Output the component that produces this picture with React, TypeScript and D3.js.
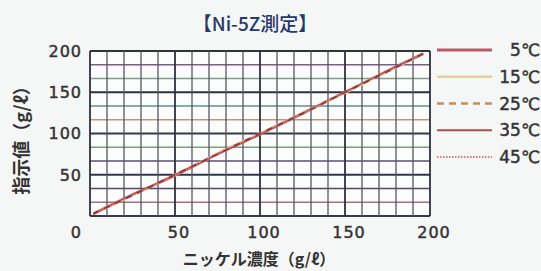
import { useEffect, useRef } from 'react'
import * as d3 from 'd3'

const title = '【Ni-5Z測定】'
const xTitle = 'ニッケル濃度（g/ℓ）'
const yTitle = '指示値（g/ℓ）'

const xTicks = [50, 100, 150, 200]
const yTicks = [50, 100, 150, 200]

// horizontal grid rows (every 50/3 g/l) and their pen colours
const hGrid = [0, 16.67, 33.33, 50, 66.67, 83.33, 100, 116.67, 133.33, 150, 166.67, 183.33, 200]
const hGridColors = ['#3b3550', '#a8707c', '#54466a', '#2e3550', '#5e4e72', '#7a9e78', '#33384a', '#b8977e', '#5e8e94', '#2e3040', '#7e9c86', '#7a5c88', '#333']
const vGrid = [0, 10, 20, 30, 40, 50, 60, 70, 80, 90, 100, 110, 120, 130, 140, 150, 160, 170, 180, 190, 200]

const concentration = [2, 25, 50, 75, 100, 125, 150, 175, 196]
const temps = ['5℃', '15℃', '25℃', '35℃', '45℃']
const t5 = [3, 26, 49, 75, 99, 124, 150, 176, 197]
const t15 = [2, 25, 50, 76, 100, 125, 149, 175, 196]
const t25 = [3, 25, 50, 75, 100, 124, 150, 175, 197]
const t35 = [2, 26, 50, 75, 99, 125, 150, 176, 196]
const t45 = [3, 25, 49, 76, 100, 125, 151, 175, 197]
const seriesValues = [t5, t15, t25, t35, t45]

const seriesColors = ['#b95a6c', '#e4d09c', '#c98a5c', '#a8504e', '#d27a88']
const seriesDash = ['', '', '7,5', '', '1.5,1.5']
const seriesWidth = [2.4, 2, 2, 1.4, 1.8]

export default function App() {
  const ref = useRef<SVGSVGElement>(null)

  useEffect(() => {
    if (!ref.current) return
    const svg = d3.select(ref.current)
    svg.selectAll('*').remove()

    const font = '"DejaVu Sans", "Noto Sans CJK JP", sans-serif'
    const cjk = '"Noto Sans CJK JP", sans-serif'

    svg.append('rect').attr('width', 541).attr('height', 271).attr('fill', '#f5f6f6')

    const x = d3.scaleLinear().domain([0, 200]).range([90, 430])
    const y = d3.scaleLinear().domain([0, 200]).range([216, 51])

    svg.append('rect')
      .attr('x', x(0)).attr('y', y(200))
      .attr('width', x(200) - x(0)).attr('height', y(0) - y(200))
      .attr('fill', '#fbfdfd')

    // grid
    svg.selectAll('.hg')
      .data(hGrid)
      .join('line')
      .attr('x1', x(0)).attr('x2', x(200))
      .attr('y1', d => y(d)).attr('y2', d => y(d))
      .attr('stroke', (d, i) => hGridColors[i])
      .attr('stroke-width', (d, i) => (i % 3 === 0 ? 1.8 : 1.5))

    svg.selectAll('.vg')
      .data(vGrid)
      .join('line')
      .attr('x1', d => x(d)).attr('x2', d => x(d))
      .attr('y1', y(0)).attr('y2', y(200))
      .attr('stroke', d => (d % 50 === 0 ? '#2f3040' : '#55565f'))
      .attr('stroke-width', d => (d % 50 === 0 ? 1.8 : 1.3))

    // series
    const line = d3.line<number>()
      .x((d, i) => x(concentration[i]))
      .y(d => y(d))
      .curve(d3.curveCatmullRom)

    seriesValues.forEach((vals, k) => {
      svg.append('path')
        .attr('d', line(vals))
        .attr('fill', 'none')
        .attr('stroke', k === 3 ? '#b8453f' : seriesColors[k])
        .attr('stroke-width', seriesWidth[k])
        .attr('stroke-dasharray', seriesDash[k] || null)
    })
    svg.append('path')
      .attr('d', line(t25))
      .attr('fill', 'none')
      .attr('stroke', '#8a3a38')
      .attr('stroke-width', 1.6)
      .attr('stroke-dasharray', '6,6')

    // tick labels
    const num = (sel: any) => sel
      .attr('font-family', font)
      .attr('font-size', 16)
      .attr('letter-spacing', 1)
      .attr('fill', '#333')
      .attr('stroke', '#333')
      .attr('stroke-width', 0.45)

    svg.selectAll('.yl')
      .data(yTicks)
      .join('text')
      .attr('x', 82)
      .attr('y', d => y(d))
      .attr('dy', '0.36em')
      .attr('text-anchor', 'end')
      .call(num)
      .text(d => d)

    svg.append('text')
      .attr('x', 82).attr('y', 232).attr('dy', '0.36em')
      .attr('text-anchor', 'end')
      .call(num)
      .text('0')

    svg.selectAll('.xl')
      .data(xTicks)
      .join('text')
      .attr('x', d => x(d) + 4)
      .attr('y', 232)
      .attr('dy', '0.36em')
      .attr('text-anchor', 'middle')
      .call(num)
      .text(d => d)

    // titles
    svg.append('text')
      .attr('x', 255).attr('y', 24).attr('dy', '0.35em')
      .attr('text-anchor', 'middle')
      .attr('font-family', cjk).attr('font-size', 19).attr('font-weight', 500)
      .attr('fill', '#27386a')
      .text(title)

    svg.append('text')
      .attr('x', 259).attr('y', 259).attr('dy', '0.35em')
      .attr('text-anchor', 'middle')
      .attr('font-family', cjk).attr('font-size', 16).attr('font-weight', 700)
      .attr('fill', '#333')
      .text(xTitle)

    svg.append('text')
      .attr('transform', 'translate(22,136) rotate(-90)')
      .attr('dy', '0.35em')
      .attr('text-anchor', 'middle')
      .attr('font-family', cjk).attr('font-size', 18).attr('font-weight', 700)
      .attr('fill', '#333')
      .text(yTitle)

    // legend
    const ly = d3.scalePoint().domain(temps).range([50, 157])
    const lg = svg.selectAll('.lg')
      .data(temps)
      .join('g')
      .attr('transform', d => `translate(0,${ly(d)})`)
    lg.append('line')
      .attr('x1', 437).attr('x2', 492)
      .attr('stroke', (d, i) => seriesColors[i])
      .attr('stroke-width', (d, i) => seriesWidth[i] + 0.4)
      .attr('stroke-dasharray', (d, i) => seriesDash[i] || null)
    lg.append('text')
      .attr('x', 540)
      .attr('dy', '0.36em')
      .attr('text-anchor', 'end')
      .attr('font-family', font)
      .attr('font-size', 17)
      .attr('fill', '#333')
      .attr('stroke', '#333')
      .attr('stroke-width', 0.45)
      .text(d => d)
  }, [])

  return (
    <div style={{ position: 'fixed', left: 0, top: 0 }}>
      <svg ref={ref} width={541} height={271} style={{ display: 'block' }} />
    </div>
  )
}
